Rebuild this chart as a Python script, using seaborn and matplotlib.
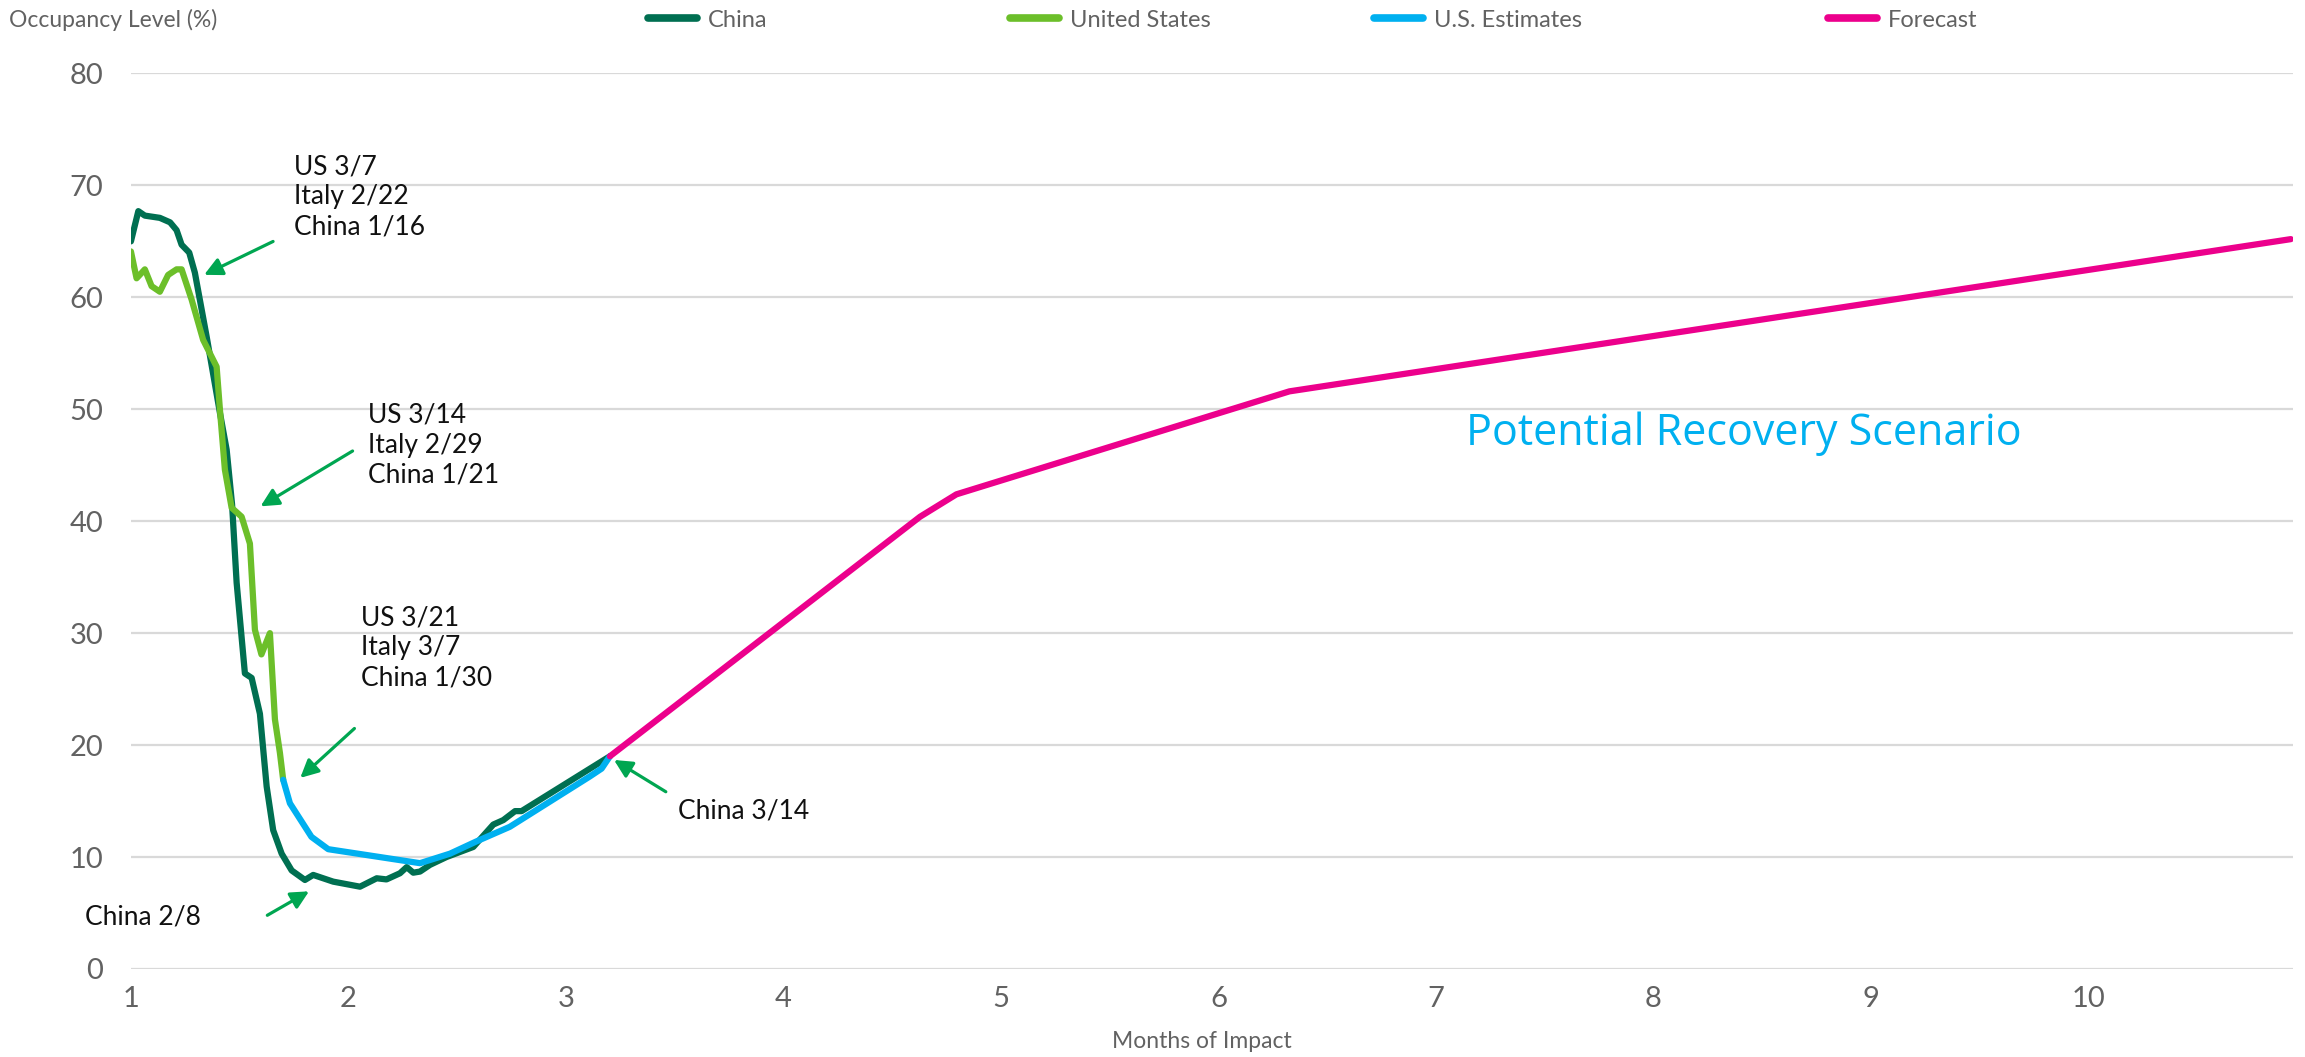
import matplotlib
matplotlib.use("Agg")
import matplotlib.pyplot as plt
import seaborn as sns

# ---- data ----
china_x = [1.00, 1.034, 1.064, 1.133, 1.18, 1.21, 1.233, 1.268, 1.294, 1.348, 1.409, 1.44, 1.465, 1.486,
           1.524, 1.555, 1.593, 1.624, 1.654, 1.693, 1.739, 1.80, 1.838, 1.93, 2.053, 2.13, 2.175, 2.237,
           2.268, 2.298, 2.329, 2.375, 2.451, 2.574, 2.666, 2.712, 2.766, 2.796, 3.202]
china_y = [65.0, 67.7, 67.3, 67.1, 66.7, 66.0, 64.7, 64.0, 62.2, 56.5, 49.7, 46.4, 41.5, 34.5,
           26.4, 26.0, 22.8, 16.3, 12.4, 10.3, 8.8, 7.95, 8.4, 7.8, 7.35, 8.1, 8.0, 8.55,
           9.1, 8.6, 8.7, 9.3, 10.0, 10.9, 12.9, 13.3, 14.1, 14.1, 19.0]

us_x = [1.0, 1.026, 1.064, 1.095, 1.133, 1.171, 1.21, 1.233, 1.279, 1.332, 1.394, 1.409, 1.432, 1.463,
        1.509, 1.547, 1.57, 1.60, 1.639, 1.662, 1.685, 1.70]
us_y = [64.1, 61.7, 62.5, 61.0, 60.5, 62.0, 62.5, 62.5, 59.8, 56.2, 53.8, 50.0, 44.6, 41.2,
        40.4, 38.0, 30.3, 28.1, 30.0, 22.3, 19.3, 16.9]

est_x = [1.70, 1.731, 1.83, 1.907, 2.329, 2.467, 2.589, 2.742, 2.926, 3.11, 3.164, 3.202]
est_y = [16.9, 14.8, 11.8, 10.7, 9.45, 10.3, 11.4, 12.7, 14.95, 17.2, 17.9, 19.0]

forecast_x = [3.202, 4.628, 4.795, 6.326, 10.93]
forecast_y = [19.0, 40.4, 42.4, 51.6, 65.2]

# (text, text x, text y, arrow tail, arrow head)
notes = [
    ("US 3/7\nItaly 2/22\nChina 1/16", 1.75, 72.8, (1.665, 65.1), (1.325, 61.9)),
    ("US 3/14\nItaly 2/29\nChina 1/21", 2.09, 50.6, (2.03, 46.4), (1.585, 41.2)),
    ("US 3/21\nItaly 3/7\nChina 1/30", 2.06, 32.5, (2.037, 21.65), (1.769, 16.9)),
]
china28 = ("China 2/8", 0.789, 4.6, (1.616, 4.67), (1.83, 7.06))
china314 = ("China 3/14", 3.513, 14.1, (3.47, 15.7), (3.21, 18.8))

yticks = [0, 10, 20, 30, 40, 50, 60, 70, 80]
xticks = [1, 2, 3, 4, 5, 6, 7, 8, 9, 10]

sns.set_theme(style="white")
plt.rcParams["font.family"] = ["Lato", "DejaVu Sans"]

GRAY = "#626262"
ARROW = "#00a651"

fig = plt.figure(figsize=(23.05, 10.57), dpi=100)
ax = fig.add_axes([0.0568, 0.0833, 0.938, 0.8472])

sns.lineplot(x=china_x, y=china_y, ax=ax, color="#006f51", linewidth=4.5, sort=False,
             estimator=None, label="China", zorder=3)
sns.lineplot(x=us_x, y=us_y, ax=ax, color="#6cbf2a", linewidth=4.5, sort=False,
             estimator=None, label="United States", zorder=4)
sns.lineplot(x=est_x, y=est_y, ax=ax, color="#00b0f0", linewidth=4.5, sort=False,
             estimator=None, label="U.S. Estimates", zorder=4)
sns.lineplot(x=forecast_x, y=forecast_y, ax=ax, color="#ec008c", linewidth=4.5, sort=False,
             estimator=None, label="Forecast", zorder=4)

ax.set_xlim(1, 10.94)
ax.set_ylim(0, 80)
ax.set_yticks(yticks)
ax.set_xticks(xticks)
ax.grid(axis="y", color="#d9d9d9", linewidth=1.6)
ax.grid(axis="x", visible=False)
for s in ax.spines.values():
    s.set_visible(False)
ax.tick_params(axis="both", length=0, labelsize=21, labelcolor=GRAY)
ax.tick_params(axis="y", pad=20)
ax.tick_params(axis="x", pad=12)
ax.set_xlabel("")
ax.set_ylabel("")

aprops = dict(arrowstyle="-|>,head_length=0.9,head_width=0.45", color=ARROW, lw=2.3)
for txt, tx, ty, tail, head in notes:
    ax.text(tx, ty, txt, fontsize=19, color="#111111", va="top", ha="left", linespacing=1.25)
    ax.annotate("", xy=head, xytext=tail, arrowprops=aprops)
for txt, tx, ty, tail, head in [china28, china314]:
    ax.text(tx, ty, txt, fontsize=19, color="#111111", va="center", ha="left", clip_on=False)
    ax.annotate("", xy=head, xytext=tail, arrowprops=aprops)

ax.text(7.14, 47.8, "Potential Recovery Scenario", fontsize=31, color="#00b0f0",
        va="center", ha="left", family=["Open Sans", "DejaVu Sans"])

# legend entries placed one by one, like the reference's spread-out header
handles, labels = ax.get_legend_handles_labels()
ax.legend_.remove()
leg_x = [0.281, 0.438, 0.596, 0.793]
for h, l, lx in zip(handles, labels, leg_x):
    leg = fig.legend([h], [l], loc="center left", bbox_to_anchor=(lx, 0.981), frameon=False,
                     handlelength=2.1, handletextpad=0.45, borderpad=0, borderaxespad=0,
                     prop={"size": 17})
    for t in leg.get_texts():
        t.set_color(GRAY)
    for ln in leg.get_lines():
        ln.set_linewidth(5.5)
        ln.set_solid_capstyle("round")

fig.text(0.004, 0.981, "Occupancy Level (%)", fontsize=16.5, color=GRAY, va="center", ha="left")
fig.text(0.5215, 0.015, "Months of Impact", fontsize=16.5, color=GRAY, va="center", ha="center")

fig.savefig("out.png", dpi=100)
